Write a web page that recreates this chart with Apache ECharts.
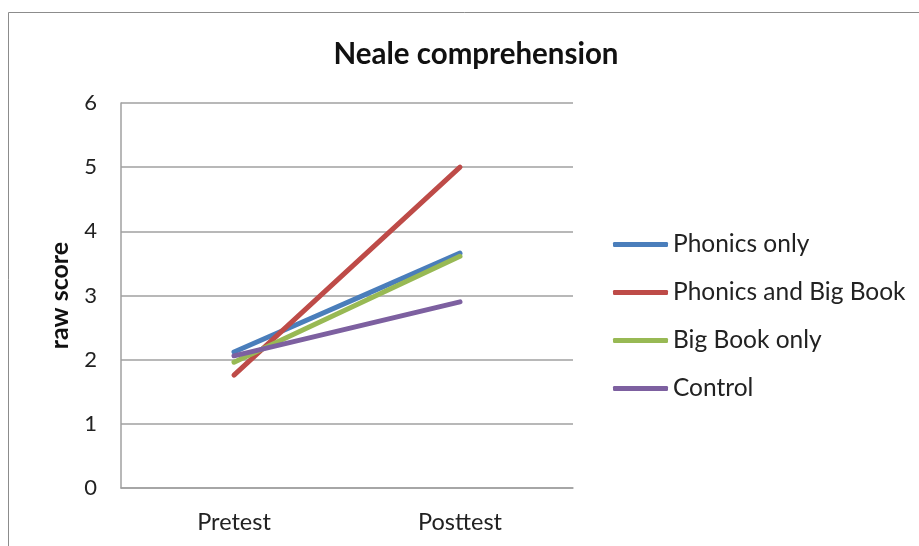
<!DOCTYPE html>
<html><head><meta charset="utf-8">
<script src="https://cdn.jsdelivr.net/npm/echarts@6/dist/echarts.min.js"></script>
<style>html,body{margin:0;padding:0;background:#fff}#c{width:919px;height:546px}</style>
</head><body><div id="c"></div>
<script>
const categories = ['Pretest', 'Posttest'];
const phonicsOnly = [2.12, 3.66];
const phonicsBigBook = [1.76, 5.0];
const bigBookOnly = [1.96, 3.61];
const control = [2.06, 2.90];
const yTicks = [0, 1, 2, 3, 4, 5, 6];

const font = 'Lato, "Open Sans", sans-serif';
const chart = echarts.init(document.getElementById('c'));
const mk = (name, data, color) => ({
  name, type: 'line', data, symbol: 'none', smooth: false,
  lineStyle: { color, width: 5, cap: 'round' }, itemStyle: { color }
});
chart.setOption({
  animation: false,
  backgroundColor: '#fff',
  graphic: [{ type: 'rect', shape: { x: 8.5, y: 12.5, width: 930, height: 560 },
    style: { fill: 'none', stroke: '#8c8c8c', lineWidth: 1 } }],
  title: { text: 'Neale comprehension', left: 471, top: 34, textAlign: 'center',
    textStyle: { fontFamily: font, fontSize: 29.5, fontWeight: 'bold', color: '#111' } },
  grid: { left: 121, right: 346, top: 103, bottom: 58 },
  legend: {
    orient: 'vertical', left: 608, top: 227, itemWidth: 55, itemHeight: 5, itemGap: 23,
    icon: 'roundRect',
    textStyle: { fontFamily: font, fontSize: 24.5, color: '#222', lineHeight: 24 },
    data: ['Phonics only', 'Phonics and Big Book', 'Big Book only', 'Control']
  },
  xAxis: {
    type: 'category', data: categories, boundaryGap: true,
    axisLine: { lineStyle: { color: '#a0a0a0', width: 1.5 } }, axisTick: { show: false },
    axisLabel: { fontFamily: font, fontSize: 23.5, color: '#222', margin: 22 }
  },
  yAxis: {
    type: 'value', min: yTicks[0], max: yTicks[yTicks.length - 1], interval: 1,
    name: 'raw score', nameLocation: 'middle', nameGap: 49, nameRotate: 90,
    nameTextStyle: { fontFamily: font, fontSize: 25, fontWeight: 'bold', color: '#111' },
    axisLine: { show: true, lineStyle: { color: '#a0a0a0', width: 1.5 } }, axisTick: { show: false },
    axisLabel: { fontFamily: font, fontSize: 22, color: '#222', margin: 24 },
    splitLine: { lineStyle: { color: '#a0a0a0', width: 1.5 } }
  },
  series: [
    mk('Phonics only', phonicsOnly, '#4a7ebb'),
    mk('Phonics and Big Book', phonicsBigBook, '#be4b48'),
    mk('Big Book only', bigBookOnly, '#98b954'),
    mk('Control', control, '#7d60a0')
  ]
});
</script></body></html>
